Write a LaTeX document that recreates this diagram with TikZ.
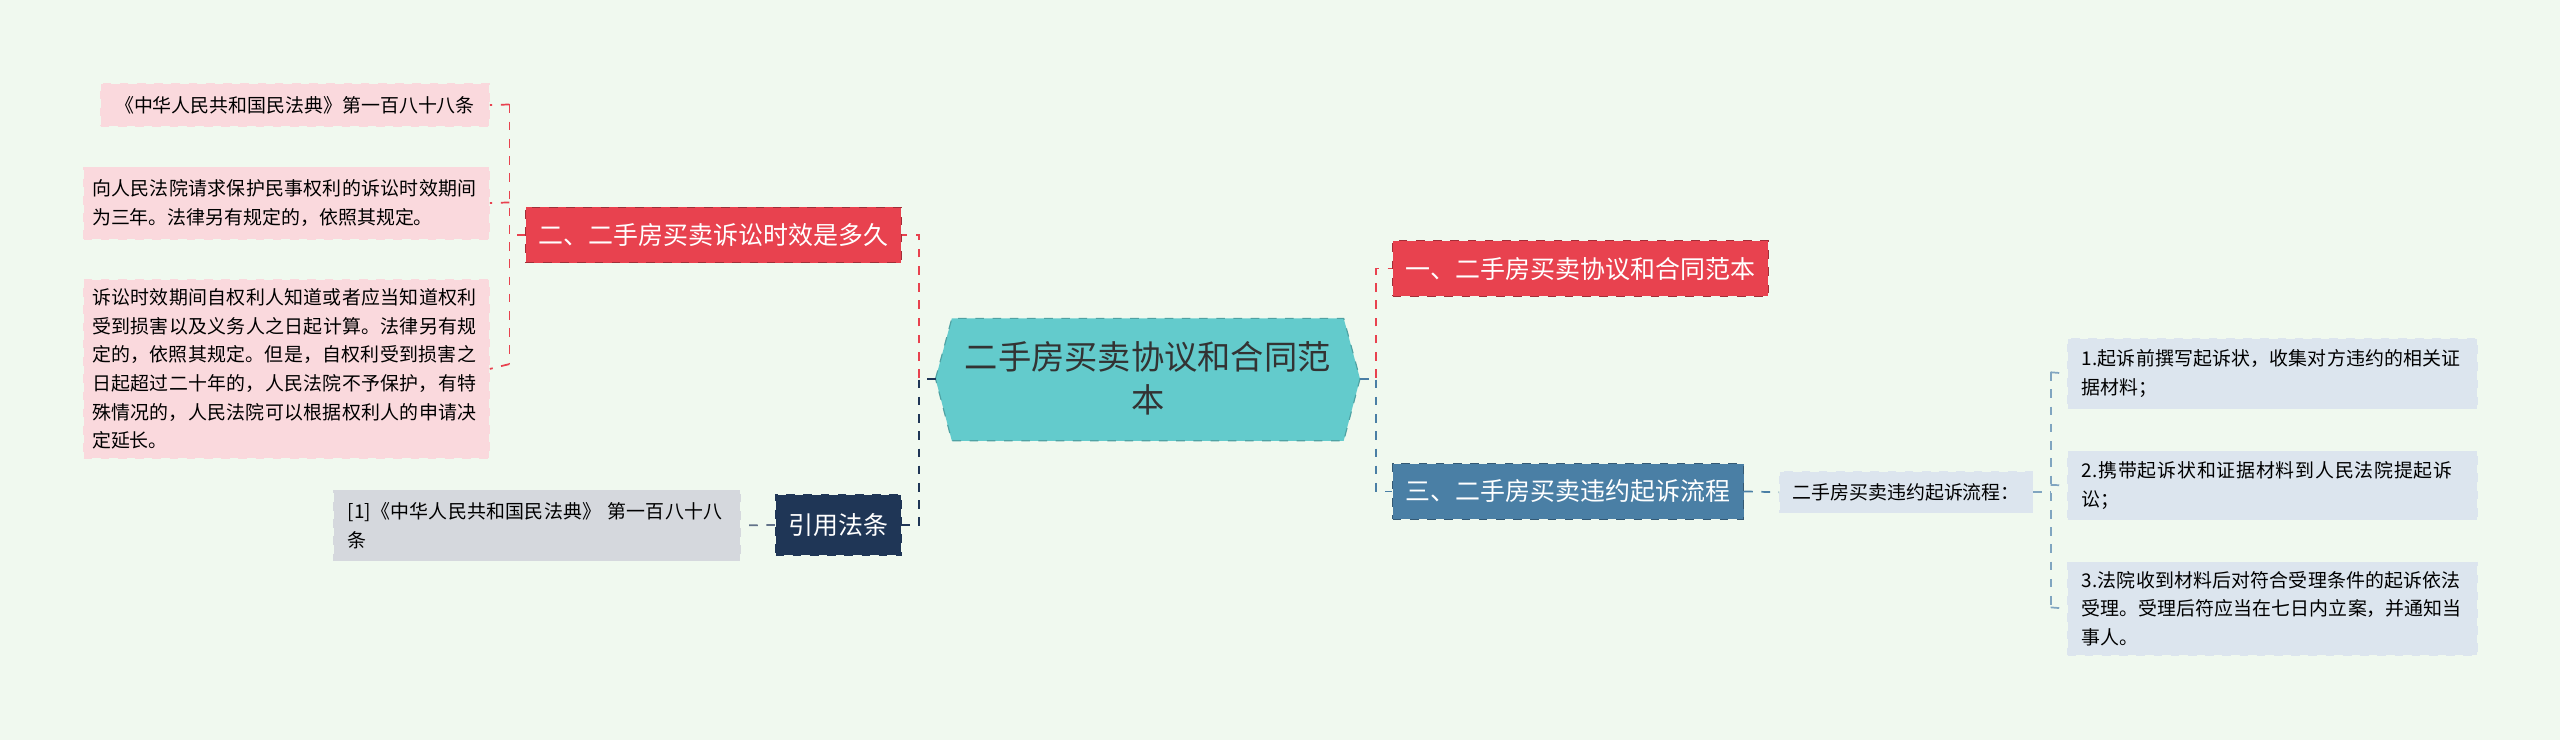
\documentclass[tikz,border=0pt]{standalone}
\usepackage{fontspec}
\setmainfont{Noto Sans CJK SC}
\XeTeXlinebreaklocale "zh"
\XeTeXlinebreakskip=0pt plus 1pt
\definecolor{bg}{HTML}{F0F9EF}
\definecolor{teal}{HTML}{63CBCC}
\definecolor{red}{HTML}{E8424F}
\definecolor{blue}{HTML}{4A7FA5}
\definecolor{navy}{HTML}{1F3656}
\definecolor{pink}{HTML}{FAD9DD}
\definecolor{lblue}{HTML}{DCE5EE}
\definecolor{grey}{HTML}{D5D8DD}
\begin{document}
\begin{tikzpicture}[x=0.02cm,y=-0.02cm,
 box/.style={draw=#1,dashed,line width=0.4pt,inner sep=0pt},
 branch/.style={font=\fontsize{8.7}{10}\selectfont,text=white,minimum height=0.68cm},
 leaf/.style={font=\fontsize{6.6}{10}\selectfont,align=left,inner xsep=5pt,inner ysep=3pt,anchor=north west},
 lk/.style={dashed,line width=0.6pt,draw=#1}]
\fill[bg] (0,0) rectangle (1568,453);
\useasboundingbox (0,0) rectangle (1568,453);
% center
\fill[teal,draw=teal!80!black,dashed] (573,232)--(583,195)--(823,195)--(833,232)--(823,270)--(583,270)--cycle;
\node[font=\fontsize{11.6}{15}\selectfont,align=center,text=black!80] (c) at (703,232) {二手房买卖协议和合同范\\本};
\coordinate (cl) at (573,232); \coordinate (cr) at (833,232);
% right branches
\node[box=red!70!black,branch,fill=red,minimum width=4.6cm] (r1) at (968,164.5) {一、二手房买卖协议和合同范本};
\node[box=blue!70!black,branch,fill=blue,minimum width=4.3cm] (r2) at (960.5,301) {三、二手房买卖违约起诉流程};
\node[box=lblue,fill=lblue,font=\fontsize{6.6}{10}\selectfont,minimum width=3.1cm,minimum height=0.5cm] (r2a) at (1167.5,301.5) {二手房买卖违约起诉流程：};
\node[box=lblue,leaf,fill=lblue,text width=4.67cm,minimum height=0.86cm] (a1) at (1266,207) {1.起诉前撰写起诉状，收集对方违约的相关证据材料；};
\node[box=lblue,leaf,fill=lblue,text width=4.67cm,minimum height=0.84cm] (a2) at (1266,276) {2.携带起诉状和证据材料到人民法院提起诉讼；};
\node[box=lblue,leaf,fill=lblue,text width=4.67cm,minimum height=1.14cm] (a3) at (1266,344) {3.法院收到材料后对符合受理条件的起诉依法受理。受理后符应当在七日内立案，并通知当事人。};
\draw[lk=red] (cr)--(843,232)--(843,164.5)--(r1.west);
\draw[lk=blue] (cr)--(843,232)--(843,301)--(r2.west);
\draw[lk=blue] (r2.east)--(r2a.west);
\draw[lk=blue!70] (r2a.east)--(1256,301.5);
\draw[lk=blue!70] (1256,228)--(1256,372);
\draw[lk=blue!70] (1256,228)--(a1.west);
\draw[lk=blue!70] (1256,297)--(a2.west);
\draw[lk=blue!70] (1256,372)--(a3.west);
% left branches
\node[box=red!70!black,branch,fill=red,minimum width=4.6cm] (l1) at (437,144) {二、二手房买卖诉讼时效是多久};
\node[box=navy,branch,fill=navy,minimum width=1.54cm,minimum height=0.74cm] (l2) at (513.5,321.5) {引用法条};
\draw[lk=red] (cl)--(563,232)--(563,144)--(l1.east);
\draw[lk=navy] (cl)--(563,232)--(563,321.5)--(l2.east);
\node[box=pink,leaf,fill=pink,anchor=north east,minimum height=0.52cm,minimum width=4.76cm] (p1) at (300,51) {《中华人民共和国民法典》第一百八十八条};
\node[box=pink,leaf,fill=pink,text width=4.76cm,inner xsep=3pt,anchor=north east,minimum height=0.88cm] (p2) at (300,102) {向人民法院请求保护民事权利的诉讼时效期间为三年。法律另有规定的，依照其规定。};
\node[box=pink,leaf,fill=pink,text width=4.76cm,inner xsep=3pt,anchor=north east,minimum height=2.06cm] (p3) at (300,171) {诉讼时效期间自权利人知道或者应当知道权利受到损害以及义务人之日起计算。法律另有规定的，依照其规定。但是，自权利受到损害之日起超过二十年的，人民法院不予保护，有特殊情况的，人民法院可以根据权利人的申请决定延长。};
\draw[lk=red] (l1.west)--(312,144);
\draw[lk=red] (312,64)--(312,223);
\draw[lk=red] (312,64)--(p1.east);
\draw[lk=red] (312,124)--(p2.east);
\draw[lk=red] (312,223)--(p3.east);
\node[box=grey,leaf,fill=grey,text width=4.63cm,minimum height=0.86cm,anchor=north west] (g1) at (204,300) {[1]《中华人民共和国民法典》 第一百八十八条};
\draw[lk=navy!70] (l2.west)--(g1.east);
\end{tikzpicture}
\end{document}
